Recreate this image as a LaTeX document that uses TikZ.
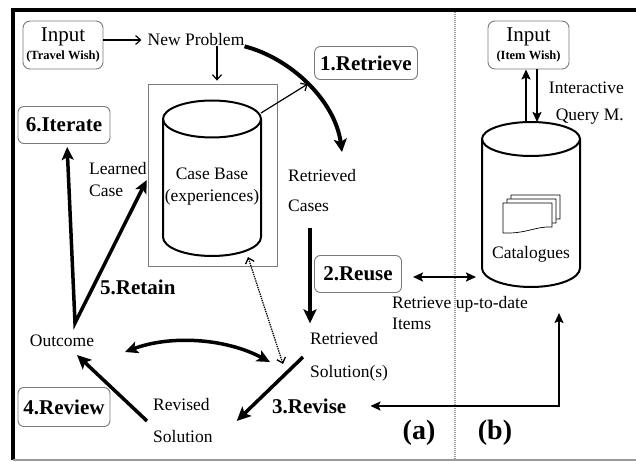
\documentclass[tikz,border=0pt]{standalone}
\usepackage{fontspec}
\setmainfont{Liberation Serif}
\usepackage{tikz}
\usetikzlibrary{arrows.meta,positioning}
\definecolor{ink}{HTML}{000000}
\definecolor{boxgray}{HTML}{7A7A7A}
\definecolor{rulegray}{HTML}{999999}
\tikzset{
  cbr picture/.style={
    x=1pt, y=-1pt,
    line join=round
  },
  plainlabel/.style={
    inner sep=0pt,
    align=left,
    font=\fontsize{17.5}{21}\selectfont
  },
  steplabel/.style={
    inner sep=0pt,
    font=\bfseries\fontsize{21}{24}\selectfont
  },
  stepbox/.style={
    steplabel,
    draw=boxgray,
    line width=0.9pt,
    rounded corners=6pt
  },
  inputbox/.style={
    draw=boxgray,
    line width=0.9pt,
    rounded corners=7pt,
    align=center,
    inner sep=0pt,
    minimum height=48pt
  },
  figlabel/.style={
    inner sep=0pt,
    font=\bfseries\fontsize{28}{30}\selectfont
  },
  cylline/.style={
    draw=ink,
    line width=2pt
  },
  thinarrow/.style={
    -{Straight Barb[length=5pt,width=9pt]},
    draw=ink,
    line width=1.2pt
  },
  midarrow/.style={
    -{Stealth[length=10pt,width=9pt,inset=2pt]},
    draw=ink,
    line width=2.4pt
  },
  midboth/.style={
    {Stealth[length=10pt,width=9pt,inset=2pt]}-{Stealth[length=10pt,width=9pt,inset=2pt]},
    draw=ink,
    line width=2.4pt
  },
  thickarrow/.style={
    -{Stealth[length=14pt,width=13pt,inset=3pt]},
    draw=ink,
    line width=3.5pt
  },
  thickboth/.style={
    {Stealth[length=13pt,width=12pt,inset=3pt]}-{Stealth[length=13pt,width=12pt,inset=3pt]},
    draw=ink,
    line width=3.5pt
  },
  dotboth/.style={
    {Straight Barb[length=5pt,width=9pt]}-{Straight Barb[length=5pt,width=9pt]},
    draw=ink,
    line width=1.3pt,
    densely dotted
  }
}

\begin{document}
\begin{tikzpicture}[cbr picture]
\useasboundingbox (0,0) rectangle (636,462);

% frame and divider
\draw[line width=4pt] (11,10) -- (636,10);
\draw[line width=4pt] (13,8) -- (13,460);
\draw[rulegray, line width=1.5pt] (13,460) -- (636,460);
\draw[rulegray, line width=1.6pt, dash pattern=on 1pt off 1pt] (455,12) -- (455,460);

% (a) case-based reasoning cycle
\node[inputbox, minimum width=80pt] (inA) at (63,45) {\fontsize{21}{22}\selectfont Input\\[3pt]{\bfseries\fontsize{12.5}{14}\selectfont (Travel Wish)}};
\node[plainlabel] (newprob) at (196,40) {New Problem};
\node[draw=boxgray, line width=0.8pt, minimum width=129pt, minimum height=182pt] (caseframe) at (212.5,175) {};
\draw[cylline] (163,119) -- (163,237) arc (180:360:49pt and 19pt) -- (261,119);
\draw[cylline] (212,119) ellipse (49pt and 18.5pt);
\node[plainlabel, align=center] (caselabel) at (212,187) {Case Base\\[1pt](experiences)};

\node[stepbox, minimum width=103pt, minimum height=33pt] (retrieve) at (366,63) {1.Retrieve};
\node[stepbox, minimum width=87pt, minimum height=37pt] (reuse) at (358,274) {2.Reuse};
\node[steplabel, anchor=west] (revise) at (272,406) {3.Revise};
\node[stepbox, minimum width=92pt, minimum height=39pt] (review) at (64,407) {4.Review};
\node[steplabel, anchor=west] (retain) at (100,287) {5.Retain};
\node[stepbox, minimum width=92pt, minimum height=37pt] (iterate) at (64,125) {6.Iterate};

\node[plainlabel, anchor=west] (retcases) at (288,191) {Retrieved\\[9pt]Cases};
\node[plainlabel, anchor=west] (retsol) at (310,357) {Retrieved\\[12pt]Solution(s)};
\node[plainlabel, anchor=west] (revsol) at (153,421) {Revised\\[11pt]Solution};
\node[plainlabel] (outcome) at (62,341) {Outcome};
\node[plainlabel, anchor=west] (learned) at (89,180) {Learned\\[1pt]Case};
\node[plainlabel, anchor=west] (items) at (392,313) {Retrieve up-to-date\\Items};
\node[figlabel] (figa) at (419,433) {(a)};

% (b) catalogue side
\node[inputbox, minimum width=81pt] (inB) at (528.5,45) {\fontsize{21}{22}\selectfont Input\\[3pt]{\bfseries\fontsize{12.5}{14}\selectfont (Item Wish)}};
\node[plainlabel, anchor=east, align=right] (query) at (624,103) {Interactive\\[6pt]Query M.};
\draw[cylline] (482,139) -- (482,268) arc (180:360:49pt and 19pt) -- (580,139);
\draw[cylline] (531,139) ellipse (49pt and 17pt);
\foreach \d in {8,4,0}
  \draw[fill=white, line width=0.7pt] ({503+\d},{203-\d}) -- ({552+\d},{203-\d}) -- ({552+\d},{227-\d})
    .. controls ({536+\d},{226-\d}) and ({526+\d},{234-\d}) .. ({503+\d},{233-\d}) -- cycle;
\node[plainlabel] (catalog) at (531,254) {Catalogues};
\node[figlabel] (figb) at (495,433) {(b)};

% arrow ends
\coordinate (cbrim) at (261,113);
\coordinate (rettip) at (342,152);
\coordinate (catN) at (531,122);
\coordinate (catW) at (482,277);
\coordinate (catS) at (559,313);
\coordinate (cbbase) at (248,257);
\coordinate (dotend) at (283,364);
\coordinate (outE) at (125,352);
\coordinate (solW) at (270,362);
\coordinate (outS) at (77,355);
\coordinate (fork) at (75,323);

\draw[thinarrow, shorten >=6pt] (inA.east |- newprob.west) -- (newprob.west);
\draw[thinarrow, shorten >=3pt] ([xshift=21pt]newprob.south) -- ([xshift=4.5pt]caseframe.north);
\draw[-{Stealth[length=13pt,width=13pt,inset=3pt]}, line width=4pt] (newprob.south east)
  .. controls (290,58) and (335,100) .. coordinate[pos=0.5] (arcmid) (rettip);
\draw[thinarrow] (cbrim) -- (arcmid);
\draw[thickarrow, shorten <=16pt, shorten >=9pt] (retcases.south west -| retsol.west) -- (retsol.north west);
\draw[midboth, shorten <=11pt, shorten >=6pt] (reuse.east |- catW) -- (catW);
\draw[midarrow] ([xshift=-5pt]catN) -- ([xshift=-2.5pt]inB.south);
\draw[midarrow] ([xshift=8.5pt]inB.south) -- ([xshift=6pt]catN);
\draw[midboth, line join=miter] ([xshift=24pt]revise.east) -| (catS);
\draw[thickarrow] ([xshift=-7pt]retsol.west) -- ([xshift=24pt]revsol.east);
\draw[dotboth] (cbbase) -- (dotend);
\draw[thickboth] (outE) .. controls (170,335) and (225,338) .. (solW);
\draw[thickarrow] ([xshift=-6pt]revsol.west) -- (outS);
\draw[thickboth, line join=miter, shorten <=3pt] ([xshift=3pt]iterate.south) -- (fork) -- (learned.east);
\end{tikzpicture}
\end{document}
